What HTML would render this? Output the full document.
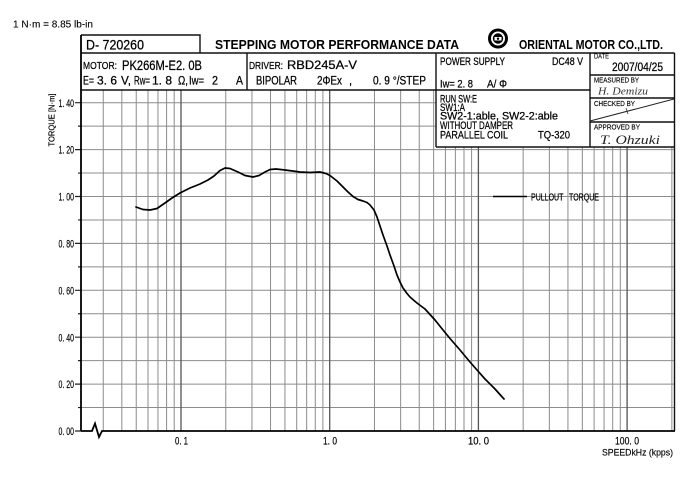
<!DOCTYPE html>
<html><head><meta charset="utf-8"><style>
html,body{margin:0;padding:0;background:#fff;}
svg{display:block;}
</style></head><body>
<svg width="700" height="494" viewBox="0 0 700 494" xmlns="http://www.w3.org/2000/svg" font-family="Liberation Sans, sans-serif">
<rect width="700" height="494" fill="#fff"/>

<!-- grid horizontal -->
<g stroke="#8c8c8c" stroke-width="1" fill="none">
<path d="M81 407.55H674M81 384.1H674M81 360.65H674M81 337.2H674M81 313.75H674M81 290.3H674M81 266.85H674M81 243.4H674M81 219.95H674M81 196.5H674M81 173.05H674M81 149.6H674M81 126.15H436M81 102.7H436"/>
<path d="M103.25 90V431M121.83 90V431M136.24 90V431M148.01 90V431M157.97 90V431M166.59 90V431M174.2 90V431
M225.76 90V431M251.95 90V431M270.53 90V431M284.94 90V431M296.71 90V431M306.67 90V431M315.29 90V431M322.9 90V431
M374.46 90V431M400.65 90V431M419.23 90V431M433.64 90V431M445.41 147V431M455.37 147V431M463.99 147V431M471.6 147V431
M523.16 147V431M549.35 147V431M567.93 147V431M582.34 147V431M594.11 147V431M604.07 147V431M612.69 147V431M620.3 147V431
M671.86 147V431"/>
</g>
<g stroke="#555" stroke-width="1.3" fill="none">
<path d="M181 90V431M329.7 90V431M478.4 147V431M627.1 147V431"/>
</g>

<!-- ticks -->
<g stroke="#222" stroke-width="1.2">
<path d="M75 102.7H81M75 149.6H81M75 196.5H81M75 243.4H81M75 290.3H81M75 337.2H81M75 384.1H81M75 431H81"/>
<path d="M78 126.15H81M78 173.05H81M78 219.95H81M78 266.85H81M78 313.75H81M78 360.65H81M78 407.55H81"/>
</g>

<!-- table lines -->
<g stroke="#111" stroke-width="1.4" fill="none">
<path d="M81 35H200V53"/>
<path d="M81 53H674.5"/>
<path d="M247 53V90"/>
<path d="M436 53V147"/>
<path d="M590 53V147"/>
<path d="M81 90H590"/>
<path d="M436 147H674.5"/>
<path d="M590 75H674M590 98H674M590 122H674"/>
<path d="M674.5 53V431"/>
</g>
<path d="M590 121L674 99" stroke="#222" stroke-width="1"/>
<path d="M626 108l2 6M624 112l5 -1" stroke="#333" stroke-width="0.8"/>

<!-- axes -->
<path d="M81 35V431" stroke="#000" stroke-width="1.8"/>
<path d="M81 431H92L95 423.5L99 437L102 431H675" stroke="#000" stroke-width="1.8" fill="none" stroke-linejoin="miter"/>

<!-- curve -->
<polyline fill="none" stroke="#000" stroke-width="1.7" stroke-linejoin="round" stroke-linecap="round" points="136,207 143,209.5 150,210 157,208.5 165,203 172,198 180,193 190,188 200,184 208,180 214,176 220,170.5 225,168 230,168.5 238,172 245,175.5 253,177 259,175.5 265,172 270,169.5 276,169 285,170 300,172 310,172.5 320,172 326,173.5 330,175.5 337,181 343,187 348,192 353,196.5 358,199.5 363,201 367,202.5 370,205 374,210 377,217 380,226 383,235 387,246 390,255 394,266 397,275 400,282 403,288 407,293.5 410,297 414,300.5 417,303 421,306 425,309 430,314.5 435,320 443,330 450,338.5 460,350 470,362 477,370 485,379 495,389 504,399"/>

<g stroke="#000" stroke-width="0.25">
<!-- legend -->
<path d="M493 196.5H527" stroke="#000" stroke-width="1.6"/>
<text x="531" y="200.6" font-size="10" textLength="68" lengthAdjust="spacingAndGlyphs" xml:space="preserve">PULLOUT   TORQUE</text>

<!-- header texts -->
<text x="13" y="27.3" font-size="10" textLength="80" lengthAdjust="spacingAndGlyphs" stroke-width="0.1">1 N·m = 8.85 lb-in</text>
<text x="86" y="49.5" font-size="13.5" textLength="58" lengthAdjust="spacingAndGlyphs" xml:space="preserve">D- 720260</text>
<text x="215" y="48.8" font-size="13" font-weight="bold" textLength="244" lengthAdjust="spacingAndGlyphs" stroke-width="0">STEPPING MOTOR PERFORMANCE DATA</text>
<text x="519" y="48.8" font-size="13" font-weight="bold" textLength="144" lengthAdjust="spacingAndGlyphs" stroke-width="0">ORIENTAL MOTOR CO.,LTD.</text>

<!-- motor row -->
<text x="83" y="69" font-size="10" textLength="34" lengthAdjust="spacingAndGlyphs">MOTOR:</text>
<text x="122" y="70" font-size="13.5" textLength="80" lengthAdjust="spacingAndGlyphs" xml:space="preserve">PK266M-E2. 0B</text>
<g font-size="12">
<text x="83" y="84.5" textLength="11" lengthAdjust="spacingAndGlyphs">E=</text>
<text x="97" y="84.5" textLength="20" lengthAdjust="spacingAndGlyphs" xml:space="preserve">3. 6</text>
<text x="121" y="84.5" textLength="10" lengthAdjust="spacingAndGlyphs">V,</text>
<text x="134" y="84.5" textLength="16" lengthAdjust="spacingAndGlyphs">Rw=</text>
<text x="152" y="84.5" textLength="20" lengthAdjust="spacingAndGlyphs" xml:space="preserve">1. 8</text>
<text x="178" y="84.5" textLength="10" lengthAdjust="spacingAndGlyphs">Ω,</text>
<text x="189" y="84.5" textLength="15" lengthAdjust="spacingAndGlyphs">Iw=</text>
<text x="212" y="84.5" textLength="6" lengthAdjust="spacingAndGlyphs">2</text>
<text x="236" y="84.5" textLength="7" lengthAdjust="spacingAndGlyphs">A</text>
</g>
<!-- driver -->
<text x="249" y="69" font-size="10.5" textLength="34" lengthAdjust="spacingAndGlyphs">DRIVER:</text>
<text x="287" y="69" font-size="12" textLength="70" lengthAdjust="spacingAndGlyphs">RBD245A-V</text>
<text x="256" y="84.5" font-size="11.5" textLength="41" lengthAdjust="spacingAndGlyphs">BIPOLAR</text>
<text x="317" y="84.5" font-size="11.5" textLength="25" lengthAdjust="spacingAndGlyphs">2ΦEx</text>
<text x="349" y="84.5" font-size="11">,</text>
<text x="373" y="84.5" font-size="11.5" textLength="53" lengthAdjust="spacingAndGlyphs" xml:space="preserve">0. 9 °/STEP</text>
<!-- power supply -->
<text x="440" y="65" font-size="11" textLength="65" lengthAdjust="spacingAndGlyphs">POWER SUPPLY</text>
<text x="552" y="65" font-size="11" textLength="31" lengthAdjust="spacingAndGlyphs">DC48 V</text>
<text x="440" y="87.6" font-size="11" textLength="33" lengthAdjust="spacingAndGlyphs" xml:space="preserve">Iw= 2. 8</text>
<text x="487" y="87.6" font-size="11" textLength="20" lengthAdjust="spacingAndGlyphs">A/ Φ</text>
<g font-size="11">
<text x="440" y="102.3" textLength="37" lengthAdjust="spacingAndGlyphs">RUN SW:E</text>
<text x="440" y="110.8" textLength="25" lengthAdjust="spacingAndGlyphs">SW1:A</text>
<text x="440" y="119.5" textLength="118" lengthAdjust="spacingAndGlyphs">SW2-1:able, SW2-2:able</text>
<text x="440" y="128.8" textLength="73" lengthAdjust="spacingAndGlyphs">WITHOUT DAMPER</text>
<text x="440" y="138.5" textLength="68" lengthAdjust="spacingAndGlyphs">PARALLEL COIL</text>
<text x="538" y="138.5" textLength="32" lengthAdjust="spacingAndGlyphs">TQ-320</text>
</g>
<!-- date column -->
<text x="594" y="58.5" font-size="7" textLength="15" lengthAdjust="spacingAndGlyphs" stroke-width="0.1">DATE</text>
<text x="612" y="70.8" font-size="11.5" textLength="51" lengthAdjust="spacingAndGlyphs">2007/04/25</text>
<text x="594" y="82.5" font-size="7.5" textLength="45" lengthAdjust="spacingAndGlyphs" stroke-width="0.15">MEASURED BY</text>
<text x="594" y="106" font-size="7.5" textLength="41" lengthAdjust="spacingAndGlyphs" stroke-width="0.15">CHECKED BY</text>
<text x="594" y="129.5" font-size="7.5" textLength="46" lengthAdjust="spacingAndGlyphs" stroke-width="0.15">APPROVED BY</text>
</g>
<text x="598" y="94.5" font-size="11" font-family="Liberation Serif, serif" font-style="italic" textLength="50" lengthAdjust="spacingAndGlyphs" fill="#333">H. Demizu</text>
<text x="600" y="144" font-size="13" font-family="Liberation Serif, serif" font-style="italic" textLength="60" lengthAdjust="spacingAndGlyphs" fill="#222">T. Ohzuki</text>

<!-- logo -->
<circle cx="498" cy="38.5" r="10" fill="#000"/>
<circle cx="498" cy="38.5" r="7" fill="#fff"/>
<circle cx="498" cy="38.5" r="5.2" fill="#000"/>
<rect x="494.5" y="37" width="7" height="3.5" fill="#fff"/>
<circle cx="498" cy="38.7" r="1.2" fill="#000"/>

<!-- y labels -->
<g font-size="11" text-anchor="end" stroke="#000" stroke-width="0.2">
<text x="74" y="106.8" textLength="15.5" lengthAdjust="spacingAndGlyphs" xml:space="preserve">1. 40</text>
<text x="74" y="153.7" textLength="15.5" lengthAdjust="spacingAndGlyphs" xml:space="preserve">1. 20</text>
<text x="74" y="200.6" textLength="15.5" lengthAdjust="spacingAndGlyphs" xml:space="preserve">1. 00</text>
<text x="74" y="247.5" textLength="15.5" lengthAdjust="spacingAndGlyphs" xml:space="preserve">0. 80</text>
<text x="74" y="294.4" textLength="15.5" lengthAdjust="spacingAndGlyphs" xml:space="preserve">0. 60</text>
<text x="74" y="341.3" textLength="15.5" lengthAdjust="spacingAndGlyphs" xml:space="preserve">0. 40</text>
<text x="74" y="388.2" textLength="15.5" lengthAdjust="spacingAndGlyphs" xml:space="preserve">0. 20</text>
<text x="74" y="435.1" textLength="15.5" lengthAdjust="spacingAndGlyphs" xml:space="preserve">0. 00</text>
</g>
<text transform="translate(54.5 120) rotate(-90)" text-anchor="middle" font-size="8.5" textLength="53" lengthAdjust="spacingAndGlyphs" stroke="#000" stroke-width="0.15">TORQUE [N·m]</text>

<!-- x labels -->
<g font-size="11" text-anchor="middle" stroke="#000" stroke-width="0.2">
<text x="181.5" y="444.5" textLength="13" lengthAdjust="spacingAndGlyphs" xml:space="preserve">0. 1</text>
<text x="330" y="444.5" textLength="14" lengthAdjust="spacingAndGlyphs" xml:space="preserve">1. 0</text>
<text x="478.5" y="444.5" textLength="21" lengthAdjust="spacingAndGlyphs" xml:space="preserve">10. 0</text>
<text x="627" y="444.5" textLength="24" lengthAdjust="spacingAndGlyphs" xml:space="preserve">100. 0</text>
</g>
<text x="602" y="455.5" font-size="9.5" textLength="71" lengthAdjust="spacingAndGlyphs" stroke="#000" stroke-width="0.15">SPEEDkHz (kpps)</text>
</svg>
</body></html>
